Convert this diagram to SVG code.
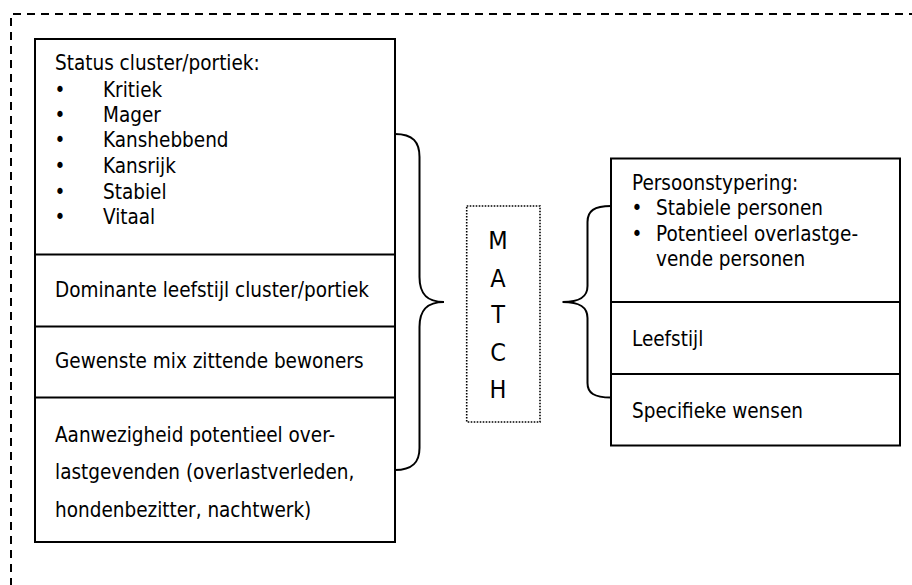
<svg xmlns="http://www.w3.org/2000/svg" width="912" height="585" viewBox="0 0 912 585">
  <style>
    .frame { fill: none; stroke: #000; stroke-width: 2; stroke-dasharray: 8 6; }
    .box { fill: #fff; stroke: #000; stroke-width: 2; }
    .div { stroke: #000; stroke-width: 2; }
    .brace { fill: none; stroke: #000; stroke-width: 2; }
    .dotbox { fill: none; stroke: #000; stroke-width: 1.6; stroke-dasharray: 1.6 1.4; }
    text { font-family: "DejaVu Sans Condensed", "DejaVu Sans", sans-serif; font-size: 20.5px; fill: #000; }
    .blt { text-anchor: middle; }
    .big { font-size: 25px; text-anchor: middle; }
  </style>

  <!-- outer dashed frame (open to the right and bottom) -->
  <path class="frame" d="M11,600 L11,14 L920,14"/>

  <!-- left stack: cluster / portiek characteristics -->
  <g id="cluster">
    <rect class="box" x="35" y="39" width="360" height="503"/>
    <line class="div" x1="35" y1="254.5" x2="395" y2="254.5"/>
    <line class="div" x1="35" y1="326.5" x2="395" y2="326.5"/>
    <line class="div" x1="35" y1="397.5" x2="395" y2="397.5"/>
    <text x="55" y="70">Status cluster/portiek:</text>
    <text class="blt" x="60" y="96.5">•</text><text x="103" y="96.5">Kritiek</text>
    <text class="blt" x="60" y="122">•</text><text x="103" y="122">Mager</text>
    <text class="blt" x="60" y="147">•</text><text x="103" y="147">Kanshebbend</text>
    <text class="blt" x="60" y="172.5">•</text><text x="103" y="172.5">Kansrijk</text>
    <text class="blt" x="60" y="198.5">•</text><text x="103" y="198.5">Stabiel</text>
    <text class="blt" x="60" y="224">•</text><text x="103" y="224">Vitaal</text>
    <text x="55" y="296.5">Dominante leefstijl cluster/portiek</text>
    <text x="55" y="368">Gewenste mix zittende bewoners</text>
    <text x="55" y="441.5">Aanwezigheid potentieel over-</text>
    <text x="55" y="479">lastgevenden (overlastverleden,</text>
    <text x="55" y="516.5">hondenbezitter, nachtwerk)</text>
  </g>

  <!-- centre label -->
  <g id="match">
    <rect class="dotbox" x="466.7" y="206" width="73.3" height="216"/>
    <text class="big" x="498" y="248.5">M</text>
    <text class="big" x="498" y="286.5">A</text>
    <text class="big" x="498" y="322.5">T</text>
    <text class="big" x="498" y="360.5">C</text>
    <text class="big" x="498" y="397.5">H</text>
  </g>

  <!-- right stack: person characteristics -->
  <g id="persoon">
    <rect class="box" x="611" y="158.5" width="289" height="287"/>
    <line class="div" x1="611" y1="302" x2="900" y2="302"/>
    <line class="div" x1="611" y1="374" x2="900" y2="374"/>
    <text x="632" y="190">Persoonstypering:</text>
    <text class="blt" x="637" y="215">•</text><text x="656" y="215">Stabiele personen</text>
    <text class="blt" x="637" y="241">•</text><text x="656" y="241">Potentieel overlastge-</text>
    <text x="656" y="266">vende personen</text>
    <text x="632" y="345.5">Leefstijl</text>
    <text x="632" y="418">Specifieke wensen</text>
  </g>

  <!-- braces joining both stacks to the centre -->
  <g id="connectors">
    <path class="brace" d="M395,134 C413,134 419.5,142 419.5,157 L419.5,277 C419.5,294 427,302 444,302 C427,302 419.5,310 419.5,327 L419.5,448 C419.5,462 413,470 395,470"/>
    <path class="brace" d="M611,206 C594,206 587.5,211 587.5,222 L587.5,286 C587.5,297 580,302 562.5,302 C580,302 587.5,307 587.5,318 L587.5,383 C587.5,393 594,397.5 611,397.5"/>
  </g>
</svg>
